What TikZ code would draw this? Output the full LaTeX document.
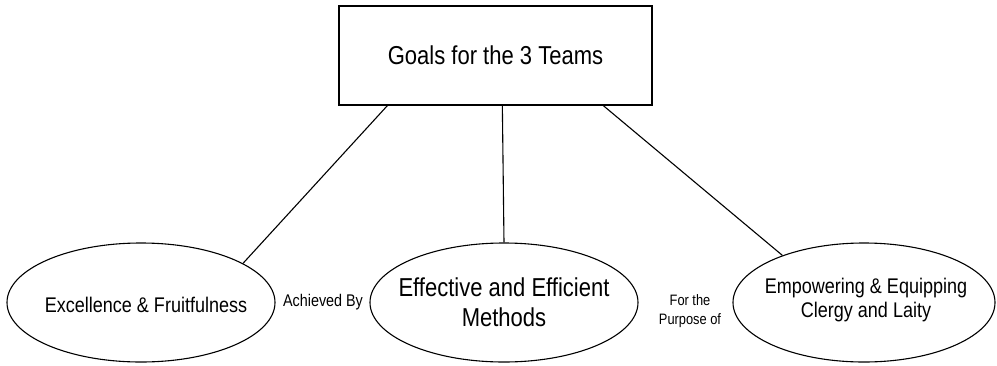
\documentclass[tikz,border=0pt]{standalone}
\usepackage{fontspec}
\setmainfont[FakeStretch=0.85]{Liberation Sans}
\usetikzlibrary{shapes.geometric}
\begin{document}
\begin{tikzpicture}[x=1pt,y=-1pt,
  every node/.style={inner sep=0pt},
  lnk/.style={draw=black,line width=1.1pt},
  oval/.style={draw=black,line width=1.1pt,ellipse,minimum height=119pt,align=center},
  goalbox/.style={draw=black,line width=1.3pt,minimum width=313pt,minimum height=99pt},
  lbl/.style={align=center,font=\fontsize{16.9}{19}\selectfont}]
\useasboundingbox (0,0) rectangle (997,365);
\node[goalbox,font=\fontsize{25.9}{30}\selectfont] (goal) at (495.5,55.5) {Goals for the 3 Teams};
\node[oval,minimum width=268pt] (e1) at (141,302.5) {};
\node[oval,minimum width=268pt] (e2) at (504,302.5) {};
\node[oval,minimum width=262pt] (e3) at (864,302.5) {};
\node[font=\fontsize{21.2}{24}\selectfont] (t1) at (146,305) {Excellence \& Fruitfulness};
\node[align=center,font=\fontsize{25.9}{30}\selectfont] (t2) at (504,302) {Effective and Efficient\\Methods};
\node[align=center,font=\fontsize{21.2}{23.5}\selectfont] (t3) at (866,300) {Empowering \& Equipping\\Clergy and Laity};
\node[lbl] (ach) at (323,302) {Achieved By};
\node[lbl,font=\fontsize{15.1}{19.5}\selectfont] (purp) at (690,311) {For the\\Purpose of};
\draw[lnk] ([xshift=49pt]goal.south west) -- (e1.21.5);
\draw[lnk] ([xshift=164pt]goal.south west) -- (e2.north);
\draw[lnk] ([xshift=265pt]goal.south west) -- (e3.150);
\end{tikzpicture}
\end{document}
